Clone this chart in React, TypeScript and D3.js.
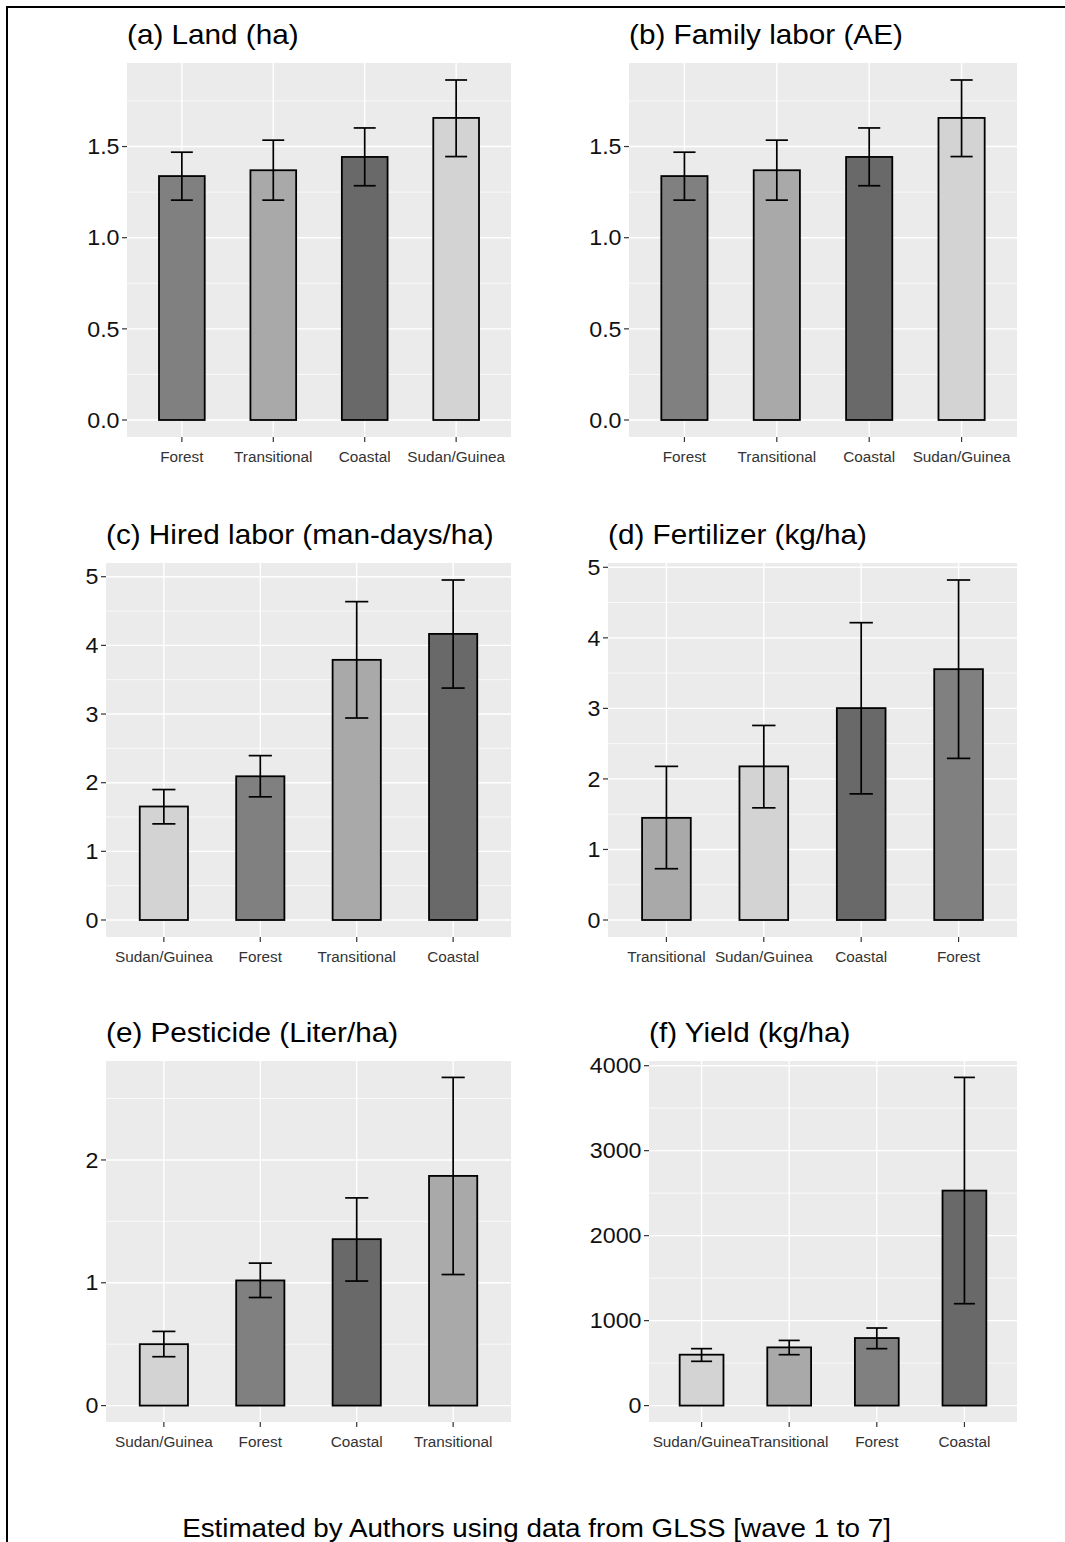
import React from 'react';
import * as d3 from 'd3';

// fill per region
const regionFill: Record<string, string> = {
  Forest: '#808080',
  Transitional: '#a9a9a9',
  Coastal: '#696969',
  'Sudan/Guinea': '#d3d3d3',
};

const landCats = ['Forest', 'Transitional', 'Coastal', 'Sudan/Guinea'];
const landMean = [1.338, 1.37, 1.443, 1.657];
const landLow = [1.206, 1.206, 1.285, 1.445];
const landHigh = [1.469, 1.535, 1.602, 1.865];

const famCats = ['Forest', 'Transitional', 'Coastal', 'Sudan/Guinea'];
const famMean = [1.338, 1.37, 1.443, 1.657];
const famLow = [1.206, 1.206, 1.285, 1.445];
const famHigh = [1.469, 1.535, 1.602, 1.865];

const hiredCats = ['Sudan/Guinea', 'Forest', 'Transitional', 'Coastal'];
const hiredMean = [1.653, 2.093, 3.789, 4.167];
const hiredLow = [1.4, 1.794, 2.942, 3.378];
const hiredHigh = [1.9, 2.394, 4.637, 4.952];

const fertCats = ['Transitional', 'Sudan/Guinea', 'Coastal', 'Forest'];
const fertMean = [1.448, 2.178, 3.004, 3.556];
const fertLow = [0.727, 1.59, 1.788, 2.291];
const fertHigh = [2.178, 2.758, 4.215, 4.82];

const pestCats = ['Sudan/Guinea', 'Forest', 'Coastal', 'Transitional'];
const pestMean = [0.5, 1.019, 1.355, 1.87];
const pestLow = [0.398, 0.88, 1.014, 1.067];
const pestHigh = [0.604, 1.16, 1.691, 2.672];

const yieldCats = ['Sudan/Guinea', 'Transitional', 'Forest', 'Coastal'];
const yieldMean = [599, 685, 795, 2530];
const yieldLow = [521, 599, 670, 1199];
const yieldHigh = [670, 767, 913, 3862];

const ticks2 = [0, 0.5, 1, 1.5];
const ticks5 = [0, 1, 2, 3, 4, 5];
const ticks3 = [0, 1, 2];
const ticksYield = [0, 1000, 2000, 3000, 4000];

const panels = [
  { title: '(a) Land (ha)', cats: landCats, mean: landMean, low: landLow, high: landHigh, ticks: ticks2, fmt: '.1f', x0: 127, x1: 511, y0: 63, y1: 437 },
  { title: '(b) Family labor (AE)', cats: famCats, mean: famMean, low: famLow, high: famHigh, ticks: ticks2, fmt: '.1f', x0: 629, x1: 1017, y0: 63, y1: 437 },
  { title: '(c) Hired labor (man-days/ha)', cats: hiredCats, mean: hiredMean, low: hiredLow, high: hiredHigh, ticks: ticks5, fmt: 'd', x0: 106, x1: 511, y0: 563, y1: 937 },
  { title: '(d) Fertilizer (kg/ha)', cats: fertCats, mean: fertMean, low: fertLow, high: fertHigh, ticks: ticks5, fmt: 'd', x0: 608, x1: 1017, y0: 563, y1: 937 },
  { title: '(e) Pesticide (Liter/ha)', cats: pestCats, mean: pestMean, low: pestLow, high: pestHigh, ticks: ticks3, fmt: 'd', x0: 106, x1: 511, y0: 1061, y1: 1422 },
  { title: '(f) Yield (kg/ha)', cats: yieldCats, mean: yieldMean, low: yieldLow, high: yieldHigh, ticks: ticksYield, fmt: 'd', x0: 649, x1: 1017, y0: 1061, y1: 1422 },
];

const font = '"Liberation Sans", Arial, sans-serif';
const stretch = 1.08;

function Panel({ p }: { p: (typeof panels)[number] }) {
  const top = d3.max(p.high) as number;
  const pad = top * 0.05;
  const x = d3.scalePoint<string>().domain(p.cats).range([p.x0, p.x1]).padding(0.6);
  const y = d3.scaleLinear().domain([-pad, top + pad]).range([p.y1, p.y0]);
  const step = x.step();
  const barW = step * 0.5;
  const capW = step * 0.24;
  const fmt = d3.format(p.fmt);
  const t = p.ticks;
  const dt = t[1] - t[0];
  const minors = d3
    .range(t.length + 1)
    .map((i) => t[0] - dt / 2 + i * dt)
    .filter((v) => v > y.domain()[0] && v < y.domain()[1]);

  return (
    <g>
      <text
        transform={`translate(${p.x0},${p.y0 - 19.5}) scale(${stretch},1)`}
        fontSize={27.5}
        fontFamily={font}
        fill="#000"
      >
        {p.title}
      </text>
      <rect x={p.x0} y={p.y0} width={p.x1 - p.x0} height={p.y1 - p.y0} fill="#ebebeb" />
      {minors.map((v) => (
        <line key={'m' + v} x1={p.x0} x2={p.x1} y1={y(v)} y2={y(v)} stroke="#fff" strokeWidth={0.7} />
      ))}
      {t.map((v) => (
        <line key={'g' + v} x1={p.x0} x2={p.x1} y1={y(v)} y2={y(v)} stroke="#fff" strokeWidth={1.4} />
      ))}
      {p.cats.map((c) => (
        <line key={'v' + c} x1={x(c)} x2={x(c)} y1={p.y0} y2={p.y1} stroke="#fff" strokeWidth={1.4} />
      ))}
      {p.cats.map((c, i) => (
        <rect
          key={'b' + c}
          x={(x(c) as number) - barW / 2}
          y={y(p.mean[i])}
          width={barW}
          height={y(0) - y(p.mean[i])}
          fill={regionFill[c]}
          stroke="#000"
          strokeWidth={1.8}
        />
      ))}
      {p.cats.map((c, i) => {
        const cx = x(c) as number;
        return (
          <g key={'e' + c} stroke="#000" strokeWidth={1.7}>
            <line x1={cx} x2={cx} y1={y(p.low[i])} y2={y(p.high[i])} />
            <line x1={cx - capW / 2} x2={cx + capW / 2} y1={y(p.low[i])} y2={y(p.low[i])} />
            <line x1={cx - capW / 2} x2={cx + capW / 2} y1={y(p.high[i])} y2={y(p.high[i])} />
          </g>
        );
      })}
      {t.map((v) => (
        <g key={'yt' + v}>
          <line x1={p.x0 - 5} x2={p.x0} y1={y(v)} y2={y(v)} stroke="#333" strokeWidth={1.2} />
          <text
            transform={`translate(${p.x0 - 7.5},${y(v) + 7.7}) scale(${stretch},1)`}
            textAnchor="end"
            fontSize={21.5}
            fontFamily={font}
            fill="#111"
          >
            {fmt(v)}
          </text>
        </g>
      ))}
      {p.cats.map((c) => (
        <g key={'xt' + c}>
          <line x1={x(c)} x2={x(c)} y1={p.y1} y2={p.y1 + 5} stroke="#333" strokeWidth={1.2} />
          <text x={x(c)} y={p.y1 + 24.5} textAnchor="middle" fontSize={15.3} fontFamily={font} fill="#333">
            {c}
          </text>
        </g>
      ))}
    </g>
  );
}

export default function App() {
  return (
    <svg
      width={1065}
      height={1542}
      style={{ position: 'absolute', left: 0, top: 0, background: '#fff' }}
    >
      <rect x={0} y={0} width={1065} height={1542} fill="#fff" />
      <path d="M7,1542 V7 H1065" fill="none" stroke="#000" strokeWidth={2} />
      {panels.map((p) => (
        <Panel key={p.title} p={p} />
      ))}
      <text
        transform={`translate(536.5,1537) scale(1.09,1)`}
        textAnchor="middle"
        fontSize={25.5}
        fontFamily={font}
        fill="#000"
      >
        Estimated by Authors using data from GLSS [wave 1 to 7]
      </text>
    </svg>
  );
}
